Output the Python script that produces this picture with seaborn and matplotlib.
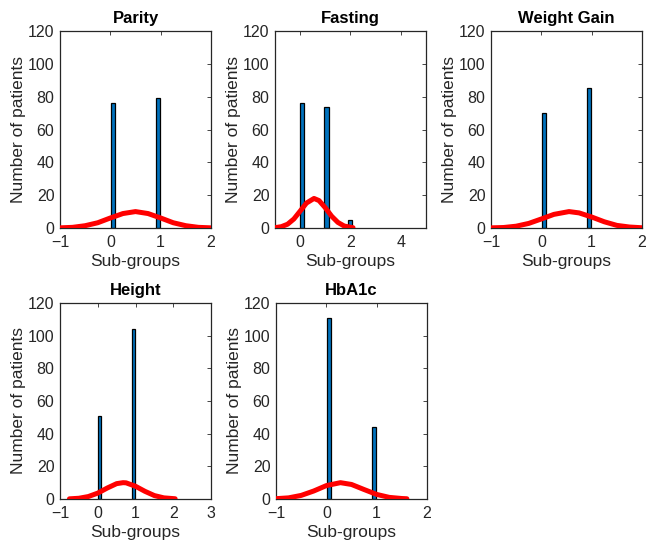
import matplotlib
matplotlib.use("Agg")
import matplotlib.pyplot as plt
import seaborn as sns
import pandas as pd

# ---- data ----
titles = ["Parity", "Fasting", "Weight Gain", "Height", "HbA1c"]

parity_bar_x = [0.05, 0.95]
parity_counts = [76, 79]
fasting_bar_x = [0.08, 1.05, 1.97]
fasting_counts = [76, 74, 5]
weight_bar_x = [0.05, 0.95]
weight_counts = [70, 85]
height_bar_x = [0.05, 0.95]
height_counts = [51, 104]
hba1c_bar_x = [0.05, 0.95]
hba1c_counts = [111, 44]

bar_widths = [0.09, 0.17, 0.09, 0.09, 0.09]

# fitted (red) curves
parity_fit_x = [-1, -0.75, -0.5, -0.25, 0, 0.25, 0.5, 0.75, 1, 1.25, 1.5, 1.75, 2]
parity_fit_y = [0.1, 0.4, 1.4, 3.2, 6.1, 8.8, 10.0, 8.8, 6.1, 3.2, 1.4, 0.4, 0.1]
fasting_fit_x = [-1, -0.75, -0.5, -0.25, 0, 0.25, 0.55, 0.75, 1, 1.25, 1.5, 1.75, 2.1]
fasting_fit_y = [0.2, 0.8, 2.3, 5.5, 10.3, 15.2, 18.0, 16.7, 12.3, 7.2, 3.4, 1.2, 0.2]
weight_fit_x = [-1, -0.75, -0.5, -0.25, 0, 0.25, 0.55, 0.75, 1, 1.25, 1.5, 1.75, 2]
weight_fit_y = [0.1, 0.3, 1.1, 2.8, 5.5, 8.3, 10.0, 9.2, 6.7, 3.8, 1.6, 0.6, 0.15]
height_fit_x = [-0.75, -0.5, -0.25, 0, 0.25, 0.5, 0.67, 0.75, 1, 1.25, 1.5, 1.75, 2.05]
height_fit_y = [0.1, 0.45, 1.5, 3.6, 6.7, 9.4, 10.0, 9.9, 7.8, 4.7, 2.1, 0.7, 0.15]
hba1c_fit_x = [-1, -0.75, -0.5, -0.25, 0, 0.28, 0.5, 0.75, 1, 1.25, 1.5, 1.6]
hba1c_fit_y = [0.2, 0.7, 2.2, 4.9, 8.2, 10.0, 8.9, 5.8, 2.8, 1.0, 0.3, 0.15]

xlims = [(-1, 2), (-1, 5), (-1, 2), (-1, 3), (-1, 2)]
xticks = [[-1, 0, 1, 2], [0, 2, 4], [-1, 0, 1, 2], [-1, 0, 1, 2, 3], [-1, 0, 1, 2]]
yticks = [0, 20, 40, 60, 80, 100, 120]

bars_x = [parity_bar_x, fasting_bar_x, weight_bar_x, height_bar_x, hba1c_bar_x]
bars_y = [parity_counts, fasting_counts, weight_counts, height_counts, hba1c_counts]
fits_x = [parity_fit_x, fasting_fit_x, weight_fit_x, height_fit_x, hba1c_fit_x]
fits_y = [parity_fit_y, fasting_fit_y, weight_fit_y, height_fit_y, hba1c_fit_y]

# ---- style ----
sns.set_style("white")
plt.rcParams["font.family"] = ["Liberation Sans", "DejaVu Sans"]
plt.rcParams["xtick.direction"] = "in"
plt.rcParams["ytick.direction"] = "in"

fig = plt.figure(figsize=(6.46, 5.46), dpi=100)
W, H = 646, 546
boxes = [
    (60, 31, 151, 197),
    (275, 31, 151, 197),
    (491, 31, 151, 197),
    (60, 303, 151, 196),
    (276, 303, 151, 196),
]
axis_col = "#262626"
bar_col = "#0072BD"

for i in range(5):
    l, t, w, h = boxes[i]
    ax = fig.add_axes([l / W, 1 - (t + h) / H, w / W, h / H])
    ax.bar(bars_x[i], bars_y[i], width=bar_widths[i], color=bar_col,
           edgecolor="black", linewidth=0.9, zorder=2)
    df = pd.DataFrame({"x": fits_x[i], "y": fits_y[i]})
    sns.lineplot(data=df, x="x", y="y", ax=ax, color="red", linewidth=3.6,
                 zorder=3, sort=False)
    ax.lines[-1].set_solid_joinstyle("round")
    ax.lines[-1].set_solid_capstyle("round")
    ax.set_xlim(*xlims[i])
    ax.set_ylim(0, 120)
    ax.set_xticks(xticks[i])
    ax.set_yticks(yticks)
    ax.tick_params(axis="x", pad=5)
    ax.tick_params(axis="y", pad=4)
    ax.tick_params(axis="both", which="both", labelsize=11.5, colors=axis_col,
                   length=3, width=0.6, top=True, right=True)
    for sp in ax.spines.values():
        sp.set_color(axis_col)
        sp.set_linewidth(0.9)
        sp.set_visible(True)
    ax.set_xlabel("Sub-groups", fontsize=12.5, color=axis_col, labelpad=3)
    ax.set_ylabel("Number of patients", fontsize=12.5, color=axis_col, labelpad=1)
    ax.set_title(titles[i], fontsize=12, fontweight="bold", color="black", pad=6)

fig.savefig("out.png", dpi=100, facecolor="white")
